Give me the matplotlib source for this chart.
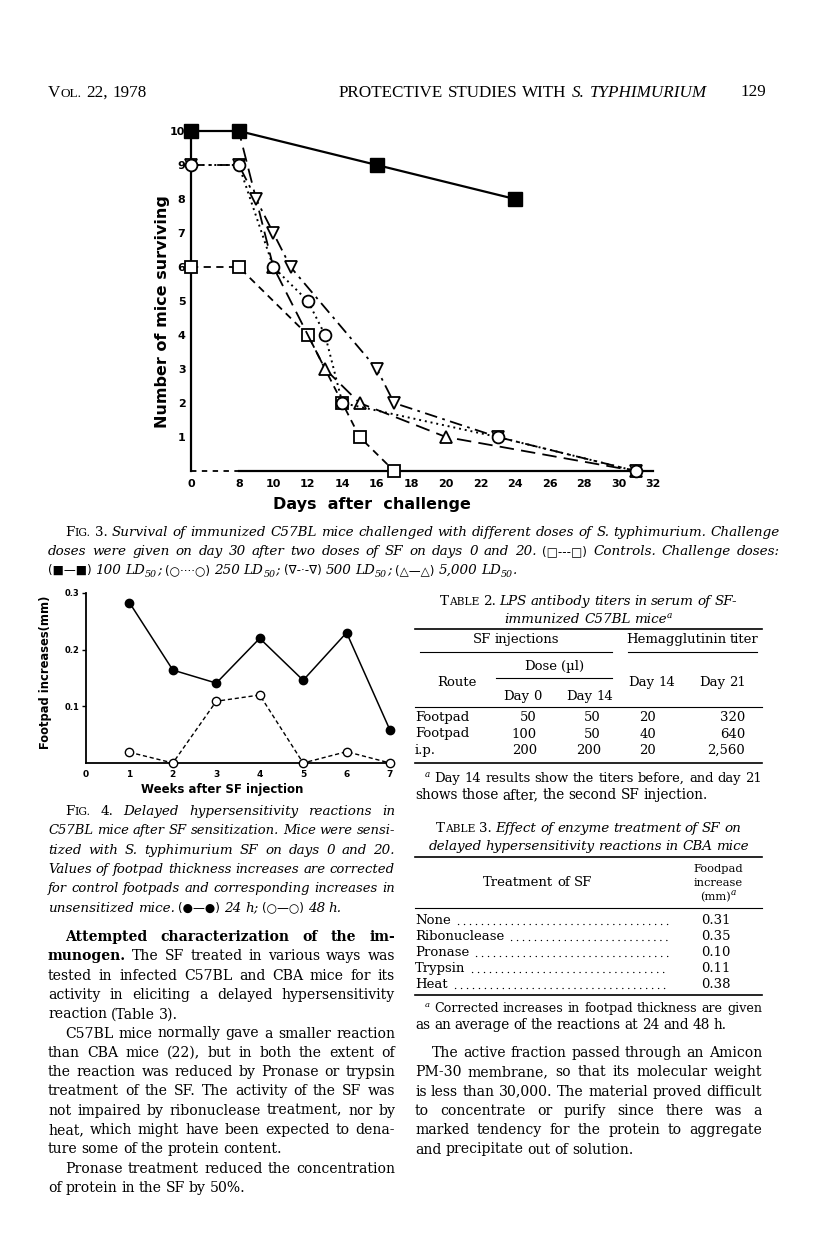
import re
import numpy as np
import matplotlib
matplotlib.use('Agg')
import matplotlib.pyplot as plt
from matplotlib.lines import Line2D

W, H = 816, 1253

# Fig. 3 - survival after challenge (days, mice surviving)
days_ctrl = [0, 8, 12, 14, 15, 17]
surv_ctrl = [6, 6, 4, 2, 1, 0]
days_100 = [0, 8, 16, 24]
surv_100 = [10, 10, 9, 8]
days_250 = [0, 8, 10, 12, 13, 14, 23, 31]
surv_250 = [9, 9, 6, 5, 4, 2, 1, 0]
days_500 = [0, 8, 9, 10, 11, 16, 17, 23, 31]
surv_500 = [9, 9, 8, 7, 6, 3, 2, 1, 0]
days_5000 = [0, 8, 10, 13, 15, 20, 31]
surv_5000 = [10, 10, 6, 3, 2, 1, 0]
fig3_xticks = [0, 8, 10, 12, 14, 16, 18, 20, 22, 24, 26, 28, 30, 32]
fig3_yticks = [1, 2, 3, 4, 5, 6, 7, 8, 9, 10]

# Fig. 4 - footpad increases (mm) per week
weeks = [1, 2, 3, 4, 5, 6, 7]
inc_24h = [0.283, 0.164, 0.141, 0.220, 0.146, 0.230, 0.058]
inc_48h = [0.019, 0.0, 0.109, 0.120, 0.0, 0.020, 0.0]
fig4_xticks = [0, 1, 2, 3, 4, 5, 6, 7]
fig4_yticks = [0.1, 0.2, 0.3]

# Table 2
t2_route = ['Footpad', 'Footpad', 'i.p.']
t2_dose_d0 = ['50', '100', '200']
t2_dose_d14 = ['50', '50', '200']
t2_titer_d14 = ['20', '40', '20']
t2_titer_d21 = ['320', '640', '2,560']

# Table 3
t3_treatment = ['None', 'Ribonuclease', 'Pronase', 'Trypsin', 'Heat']
t3_increase = [0.31, 0.35, 0.10, 0.11, 0.38]

fig = plt.figure(figsize=(W / 100, H / 100), dpi=100)
fig.patch.set_facecolor('white')
renderer = fig.canvas.get_renderer()

SERIF = ['DejaVu Serif', 'DejaVu Sans']
TIMES = ['Liberation Serif', 'DejaVu Serif']
SANS = ['DejaVu Sans']
BS = 10.1
STYLES = {
    'r': dict(family=SERIF, size=BS),
    'i': dict(family=SERIF, size=9.7, style='italic'),
    'ir': dict(family=SERIF, size=9.7),
    'b': dict(family=SERIF, size=BS, weight='bold'),
    'sc': dict(family=SERIF, size=7.7),
    'sym': dict(family=SANS, size=8.6),
    'sub': dict(family=SERIF, size=6.8, style='italic', dy=3),
    'sup': dict(family=SERIF, size=6.5, style='italic', dy=-5),
    't': dict(family=SERIF, size=9.5),
    'ts': dict(family=SERIF, size=7.6),
    'tn': dict(family=SERIF, size=8.2),
    'tf': dict(family=SERIF, size=9.8),
    'h': dict(family=TIMES, size=12.3),
    'hsc': dict(family=TIMES, size=9.5),
    'hi': dict(family=TIMES, size=12.3, style='italic'),
}
MIN_GAP = 4.0


def parse(s, default):
    segs = []
    pos = 0
    for m in re.finditer(r'\[(\w+)\|([^\]]*)\]', s):
        if m.start() > pos:
            segs.append((s[pos:m.start()], default))
        segs.append((m.group(2), m.group(1)))
        pos = m.end()
    if pos < len(s):
        segs.append((s[pos:], default))
    words = [[]]
    for text, st in segs:
        parts = text.split(' ')
        for k, p in enumerate(parts):
            if k > 0 and words[-1]:
                words.append([])
            if p:
                words[-1].append((p, st))
    return [w for w in words if w]


def measure(objs):
    widths = []
    for pieces in objs:
        ww = 0
        for item in pieces:
            item[1] = ww
            ww += item[0].get_window_extent(renderer).width
        widths.append(ww)
    return widths


def line(s, x0, x1, y, default='r', justify=True, ha='left'):
    words = parse(s, default)
    objs = []
    for w in words:
        pieces = []
        for p, st in w:
            props = dict(STYLES[st])
            dy = props.pop('dy', 0)
            t = fig.text(0, 1 - (y + dy) / H, p, va='baseline', ha='left', **props)
            pieces.append([t, 0])
        objs.append(pieces)
    widths = measure(objs)
    n = len(words)
    total = sum(widths)
    if justify and n > 1:
        room = x1 - x0 - MIN_GAP * (n - 1)
        if total > room:
            r = room / total
            for pieces in objs:
                for item in pieces:
                    item[0].set_fontsize(item[0].get_fontsize() * r)
            widths = measure(objs)
            total = sum(widths)
        gap = (x1 - x0 - total) / (n - 1)
    else:
        gap = 0.28 * STYLES[default]['size'] * 100 / 72
    full = total + gap * (n - 1)
    if ha == 'center':
        x = (x0 + x1) / 2 - full / 2
    elif ha == 'right':
        x = x1 - full
    else:
        x = x0
    for pieces, ww in zip(objs, widths):
        for t, off in pieces:
            t.set_x((x + off) / W)
        x += ww + gap
    return x - gap


def paragraph(lines, x0, x1, y0, step, default='r', indent=17):
    for k, s in enumerate(lines):
        start = x0 + indent if k == 0 else x0
        last = k == len(lines) - 1
        line(s, start, x1, y0 + k * step, default, justify=not last)


def rule(x0, x1, y, lw=0.8):
    fig.add_artist(Line2D([x0 / W, x1 / W], [1 - y / H, 1 - y / H], color='black', lw=lw))


# ---------- running head ----------
line('V[hsc|OL.] 22, 1978', 48, 200, 97, 'h', justify=False)
line('PROTECTIVE STUDIES WITH [hi|S. TYPHIMURIUM]', 339, 712, 97, 'h', justify=False)
line('129', 700, 766, 96, 'h', justify=False, ha='right')

# ---------- Fig. 3 ----------
def fwd(d):
    d = np.asarray(d, float)
    return np.where(d < 8, d * 2.77 / 8, d - 8 + 2.77)


def inv(p):
    p = np.asarray(p, float)
    return np.where(p < 2.77, p * 8 / 2.77, p + 8 - 2.77)


ax3 = fig.add_axes([191 / W, 1 - 471 / H, (653 - 191) / W, (471 - 131) / H])
ax3.set_xscale('function', functions=(fwd, inv))
ax3.set_xlim(0, 32)
ax3.set_ylim(0, 10)
ax3.patch.set_alpha(0)
for s in ['top', 'right']:
    ax3.spines[s].set_visible(False)
ax3.spines['left'].set_linewidth(1.6)
ax3.spines['bottom'].set_linewidth(1.6)
ax3.spines['bottom'].set_bounds(8, 32)
ax3.axhline(0, xmin=0, xmax=float(fwd(8) / fwd(32)), color='black', lw=1.3,
            ls=(0, (3, 3)), clip_on=False)

ms = 8.5
ax3.plot(days_ctrl, surv_ctrl, color='black', lw=1.3, ls=(0, (4, 3)), marker='s',
         ms=ms, mfc='white', mec='black', mew=1.3, clip_on=False, zorder=3)
ax3.plot(days_5000, surv_5000, color='black', lw=1.3, ls=(0, (8, 4)), marker='^',
         ms=ms, mfc='white', mec='black', mew=1.3, clip_on=False, zorder=3)
ax3.plot(days_500, surv_500, color='black', lw=1.3, ls=(0, (7, 3, 1.5, 3)), marker='v',
         ms=ms, mfc='white', mec='black', mew=1.3, clip_on=False, zorder=3)
ax3.plot(days_250, surv_250, color='black', lw=1.4, ls=(0, (1, 2)), marker='o',
         ms=ms, mfc='white', mec='black', mew=1.3, clip_on=False, zorder=4)
ax3.plot(days_100, surv_100, color='black', lw=1.6, ls='-', marker='s',
         ms=9.5, mfc='black', mec='black', clip_on=False, zorder=5)

ax3.set_xticks(fig3_xticks)
ax3.set_xticklabels([str(v) for v in fig3_xticks])
ax3.set_yticks(fig3_yticks)
ax3.set_yticklabels([str(v) for v in fig3_yticks])
ax3.tick_params(length=0, labelsize=8, pad=6)
ax3.tick_params(axis='y', pad=4)
for lab in ax3.get_xticklabels() + ax3.get_yticklabels():
    lab.set_fontweight('bold')
    lab.set_family(SANS)

fig.text(162 / W, 1 - 312 / H, 'Number of mice surviving', rotation=90, ha='center',
         va='center', family=SANS, weight='bold', size=11.5)
fig.text(372 / W, 1 - 505 / H, 'Days  after  challenge', ha='center', va='center',
         family=SANS, weight='bold', size=11.5)

fig3_caption = [
    '[ir|F][sc|IG.][ir| 3.] Survival of immunized C57BL mice challenged with different doses of S. typhimurium. Challenge',
    'doses were given on day 30 after two doses of SF on days 0 and 20. [sym|(□---□)] Controls. Challenge doses:',
    '[sym|(■—■)] 100 LD[sub|50]; [sym|(○····○)] 250 LD[sub|50]; [sym|(∇-·-∇)] 500 LD[sub|50]; '
    '[sym|(△—△)] 5,000 LD[sub|50].',
]
paragraph(fig3_caption, 48, 780, 536, 19, 'i')

# ---------- Fig. 4 ----------
ax4 = fig.add_axes([86 / W, 1 - 763 / H, (390 - 86) / W, (763 - 593) / H])
ax4.set_xlim(0, 7)
ax4.set_ylim(0, 0.3)
ax4.patch.set_alpha(0)
for s in ['top', 'right']:
    ax4.spines[s].set_visible(False)
ax4.spines['left'].set_linewidth(1.3)
ax4.spines['bottom'].set_linewidth(1.3)
ax4.plot(weeks, inc_24h, color='black', lw=1.1, marker='o', ms=6, mfc='black',
         mec='black', clip_on=False, zorder=4)
ax4.plot(weeks, inc_48h, color='black', lw=1.0, ls=(0, (3, 2)), marker='o', ms=6,
         mfc='white', mec='black', mew=1.0, clip_on=False, zorder=3)
ax4.set_xticks(fig4_xticks)
ax4.set_yticks(fig4_yticks)
ax4.set_yticklabels(['%.1f' % v for v in fig4_yticks])
ax4.tick_params(axis='x', length=0, labelsize=6.5, pad=5)
ax4.tick_params(axis='y', length=3, width=1, labelsize=6, pad=2)
for lab in ax4.get_xticklabels() + ax4.get_yticklabels():
    lab.set_fontweight('bold')
    lab.set_family(SANS)

fig.text(46 / W, 1 - 672 / H, 'Footpad increases(mm)', rotation=90, ha='center',
         va='center', family=SANS, weight='bold', size=8.3)
fig.text(222 / W, 1 - 789 / H, 'Weeks after SF injection', ha='center', va='center',
         family=SANS, weight='bold', size=8.5)

fig4_caption = [
    '[ir|F][sc|IG.][ir| 4.] Delayed hypersensitivity reactions in',
    'C57BL mice after SF sensitization. Mice were sensi-',
    'tized with S. typhimurium SF on days 0 and 20.',
    'Values of footpad thickness increases are corrected',
    'for control footpads and corresponding increases in',
    'unsensitized mice. [sym|(●—●)] 24 h; [sym|(○—○)] 48 h.',
]
paragraph(fig4_caption, 48, 395, 815, 19.3, 'i')

# ---------- left column text ----------
body_left_1 = [
    '[b|Attempted characterization of the im-]',
    '[b|munogen.] The SF treated in various ways was',
    'tested in infected C57BL and CBA mice for its',
    'activity in eliciting a delayed hypersensitivity',
    'reaction (Table 3).',
]
body_left_2 = [
    'C57BL mice normally gave a smaller reaction',
    'than CBA mice (22), but in both the extent of',
    'the reaction was reduced by Pronase or trypsin',
    'treatment of the SF. The activity of the SF was',
    'not impaired by ribonuclease treatment, nor by',
    'heat, which might have been expected to dena-',
    'ture some of the protein content.',
]
body_left_3 = [
    'Pronase treatment reduced the concentration',
    'of protein in the SF by 50%.',
]
step = 19.3
y = 941
paragraph(body_left_1, 48, 395, y, step)
paragraph(body_left_2, 48, 395, y + 5 * step, step)
paragraph(body_left_3, 48, 395, y + 12 * step, step)

# ---------- Table 2 ----------
X0, X1 = 415, 762
line('[ir|T][sc|ABLE][ir| 2.] LPS antibody titers in serum of SF-', X0, X1, 605, 'i', justify=False, ha='center')
line('immunized C57BL mice[sup|a]', X0, X1, 623, 'i', justify=False, ha='center')
rule(X0, X1, 629, 1.2)
line('SF injections', 420, 612, 643, 't', justify=False, ha='center')
line('Hemagglutinin titer', 628, 757, 643, 't', justify=False, ha='center')
rule(420, 612, 652, 0.8)
rule(628, 757, 652, 0.8)
line('Dose (µl)', 496, 612, 670, 't', justify=False, ha='center')
rule(496, 612, 678, 0.8)
line('Route', 430, 484, 686, 't', justify=False, ha='center')
line('Day 14', 620, 684, 686, 't', justify=False, ha='center')
line('Day 21', 690, 755, 686, 't', justify=False, ha='center')
line('Day 0', 495, 550, 700, 't', justify=False, ha='center')
line('Day 14', 562, 618, 700, 't', justify=False, ha='center')
rule(X0, X1, 707, 0.8)
for k in range(len(t2_route)):
    yy = 721 + k * 16.5
    line(t2_route[k], X0, 500, yy, 't', justify=False)
    line(t2_dose_d0[k], 480, 537, yy, 't', justify=False, ha='right')
    line(t2_dose_d14[k], 550, 601, yy, 't', justify=False, ha='right')
    line(t2_titer_d14[k], 620, 676, yy, 't', justify=False, ha='center')
    line(t2_titer_d21[k], 690, 745, yy, 't', justify=False, ha='right')
rule(X0, X1, 763, 1.2)
t2_note = [
    '[sup|a] Day 14 results show the titers before, and day 21',
    'shows those after, the second SF injection.',
]
paragraph(t2_note, X0, X1, 782, 17, 'tf', indent=10)

# ---------- Table 3 ----------
line('[ir|T][sc|ABLE][ir| 3.] Effect of enzyme treatment of SF on', X0, X1, 832, 'i', justify=False, ha='center')
line('delayed hypersensitivity reactions in CBA mice', X0, X1, 850, 'i', justify=False, ha='center')
rule(X0, X1, 857, 1.2)
line('Foodpad', 680, 757, 872, 'tn', justify=False, ha='center')
line('increase', 680, 757, 886, 'tn', justify=False, ha='center')
line('(mm)[sup|a]', 680, 757, 900, 'tn', justify=False, ha='center')
line('Treatment of SF', X0, 660, 886, 't', justify=False, ha='center')
rule(X0, X1, 908, 0.8)
for k in range(len(t3_treatment)):
    yy = 924 + k * 16
    end = line(t3_treatment[k], X0, 600, yy, 't', justify=False)
    fig.add_artist(Line2D([(end + 7) / W, 668 / W], [1 - yy / H] * 2, color='black',
                          lw=1.0, ls=(0, (0.1, 4.2)), dash_capstyle='round'))
    line('%.2f' % t3_increase[k], 680, 752, yy, 't', justify=False, ha='center')
rule(X0, X1, 995, 1.2)
t3_note = [
    '[sup|a] Corrected increases in footpad thickness are given',
    'as an average of the reactions at 24 and 48 h.',
]
paragraph(t3_note, X0, X1, 1012, 17, 'tf', indent=10)

# ---------- right column text ----------
body_right = [
    'The active fraction passed through an Amicon',
    'PM-30 membrane, so that its molecular weight',
    'is less than 30,000. The material proved difficult',
    'to concentrate or purify since there was a',
    'marked tendency for the protein to aggregate',
    'and precipitate out of solution.',
]
paragraph(body_right, X0, X1, 1057, step)

fig.savefig('out.png', dpi=100, facecolor='white')
